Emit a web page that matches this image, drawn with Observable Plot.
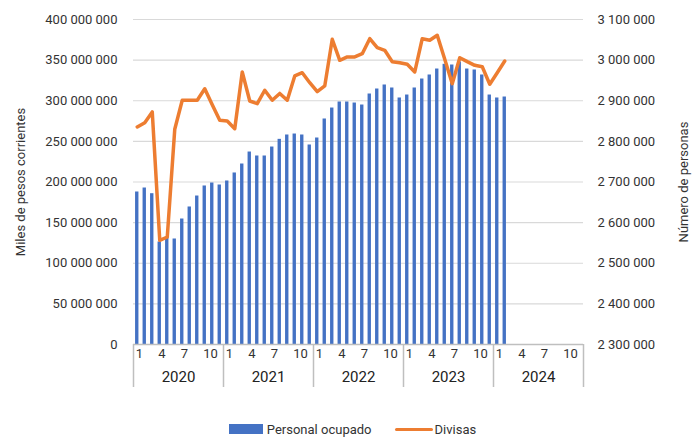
<!DOCTYPE html>
<html><head><meta charset="utf-8">
<script src="https://cdn.jsdelivr.net/npm/d3@7"></script>
<script src="https://cdn.jsdelivr.net/npm/@observablehq/plot@0.6"></script>
<style>
body{margin:0;background:#fff;font-family:Roboto,"Noto Sans",sans-serif;}
#chart svg{display:block;}
.legend{display:flex;justify-content:center;align-items:center;height:20px;margin-top:19px;font-size:13px;color:#333;padding-left:6px;}
.sw-bar{display:inline-block;width:34px;height:10px;background:#4472C4;margin-right:4px;}
.sw-line{display:inline-block;width:38px;height:3px;background:#ED7D31;margin-left:23px;margin-right:2px;border-radius:2px;}
</style></head><body><div id="chart"></div>
<script>
const years = [2020, 2021, 2022, 2023, 2024];
const monthTicks = [1, 4, 7, 10];
// Personal ocupado (número de personas), ene 2020 – feb 2024
const personal = [
  2675400, 2685200, 2671200, 2552300, 2562900, 2559700, 2608900, 2638500, 2665500, 2690200, 2697500, 2692600,
  2702500, 2722200, 2744300, 2773800, 2764000, 2764000, 2786100, 2805000, 2815700, 2818100, 2815700, 2791100,
  2808300, 2855100, 2882100, 2896900, 2896900, 2894400, 2889500, 2916600, 2928900, 2938800, 2931400, 2906800,
  2914100, 2931400, 2953500, 2963400, 2978100, 2989700, 2988000, 2995400, 2978100, 2975700, 2963400, 2914100,
  2906800, 2909200
];
// Divisas (miles de pesos corrientes)
const divisas = [
  267700000, 273000000, 286200000, 128200000, 132300000, 264900000, 300600000, 300600000, 300600000, 314800000, 295000000, 275900000,
  275100000, 265600000, 335400000, 299700000, 296400000, 312900000, 300600000, 309000000, 300600000, 330500000, 334500000, 322200000,
  311100000, 318200000, 375600000, 349800000, 353900000, 353900000, 357900000, 376400000, 365300000, 362100000, 348100000, 346800000,
  344900000, 335400000, 376400000, 374400000, 380600000, 351000000, 321000000, 353000000, 348100000, 343600000, 341900000, 320300000,
  334500000, 348900000
];
const leftTicks = [0, 50000000, 100000000, 150000000, 200000000, 250000000, 300000000, 350000000, 400000000];
const rightTicks = [2300000, 2400000, 2500000, 2600000, 2700000, 2800000, 2900000, 3000000, 3100000];
const leftTitle = "Miles de pesos corrientes";
const rightTitle = "Número de personas";

const leftMax = leftTicks[leftTicks.length - 1];
const rightMin = rightTicks[0], rightMax = rightTicks[rightTicks.length - 1];
const toLeft = p => (p - rightMin) / (rightMax - rightMin) * leftMax;
const fromLeft = v => rightMin + v / leftMax * (rightMax - rightMin);
const fmt = d3.formatLocale({thousands: " ", grouping: [3], decimal: ",", currency: ["", ""]}).format(",");

const nSlots = years.length * 12;
const slots = d3.range(nSlots).map(i => ({i, year: years[Math.floor(i / 12)], month: i % 12 + 1}));
const rows = personal.map((p, i) => ({i, personal: p, divisas: divisas[i]}));
const half = 0.225;

const plot = Plot.plot({
  width: 699, height: 400,
  marginLeft: 133, marginRight: 116, marginTop: 19, marginBottom: 56,
  x: {type: "linear", domain: [-0.5, nSlots - 0.5], axis: null},
  y: {domain: [0, leftMax], axis: null},
  style: {fontFamily: "Roboto, 'Noto Sans', sans-serif", fontSize: "13px", color: "#333", background: "#fff"},
  marks: [
    Plot.ruleY(leftTicks.filter(d => d > 0), {stroke: "#d9d9d9", strokeWidth: 1.2}),
    Plot.rectY(rows, {x1: d => d.i - half, x2: d => d.i + half, y1: 0, y2: d => toLeft(d.personal), fill: "#4472C4"}),
    Plot.line(rows, {x: "i", y: "divisas", stroke: "#ED7D31", strokeWidth: 3.5, strokeLinejoin: "round", strokeLinecap: "round"}),
    Plot.ruleY([0], {stroke: "#bfbfbf", strokeWidth: 1.5}),
    Plot.ruleX(d3.range(years.length + 1).map(j => j * 12 - 0.5), {y1: 0, y2: 0, insetBottom: -43, stroke: "#bfbfbf", strokeWidth: 1.5}),
    Plot.text(slots.filter(d => monthTicks.includes(d.month)), {x: "i", text: d => String(d.month), frameAnchor: "bottom", dy: 13, dx: -1.5, textAnchor: "start", fontSize: 13, fill: "#333"}),
    Plot.text(years, {x: (d, j) => j * 12 + 5.5, text: d => String(d), frameAnchor: "bottom", dy: 37.5, fontSize: 15, fill: "#222"}),
    Plot.axisY({anchor: "left", ticks: leftTicks, tickFormat: fmt, tickSize: 0, tickPadding: 16, label: null, fontSize: 13}),
    Plot.axisY({anchor: "right", ticks: rightTicks.map(toLeft), tickFormat: d => fmt(Math.round(fromLeft(d))), tickSize: 0, tickPadding: 14, label: null, fontSize: 13}),
    Plot.text([leftTitle], {text: d => d, frameAnchor: "left", textAnchor: "middle", rotate: -90, dx: -113, fontSize: 13, fill: "#333"}),
    Plot.text([rightTitle], {text: d => d, frameAnchor: "right", textAnchor: "middle", rotate: -90, dx: 100, fontSize: 13, fill: "#333"})
  ]
});
const chart = document.getElementById("chart");
chart.appendChild(plot);
const legend = document.createElement("div");
legend.className = "legend";
legend.innerHTML = '<span class="sw-bar"></span><span>Personal ocupado</span><span class="sw-line"></span><span>Divisas</span>';
chart.appendChild(legend);
</script>
</body></html>
